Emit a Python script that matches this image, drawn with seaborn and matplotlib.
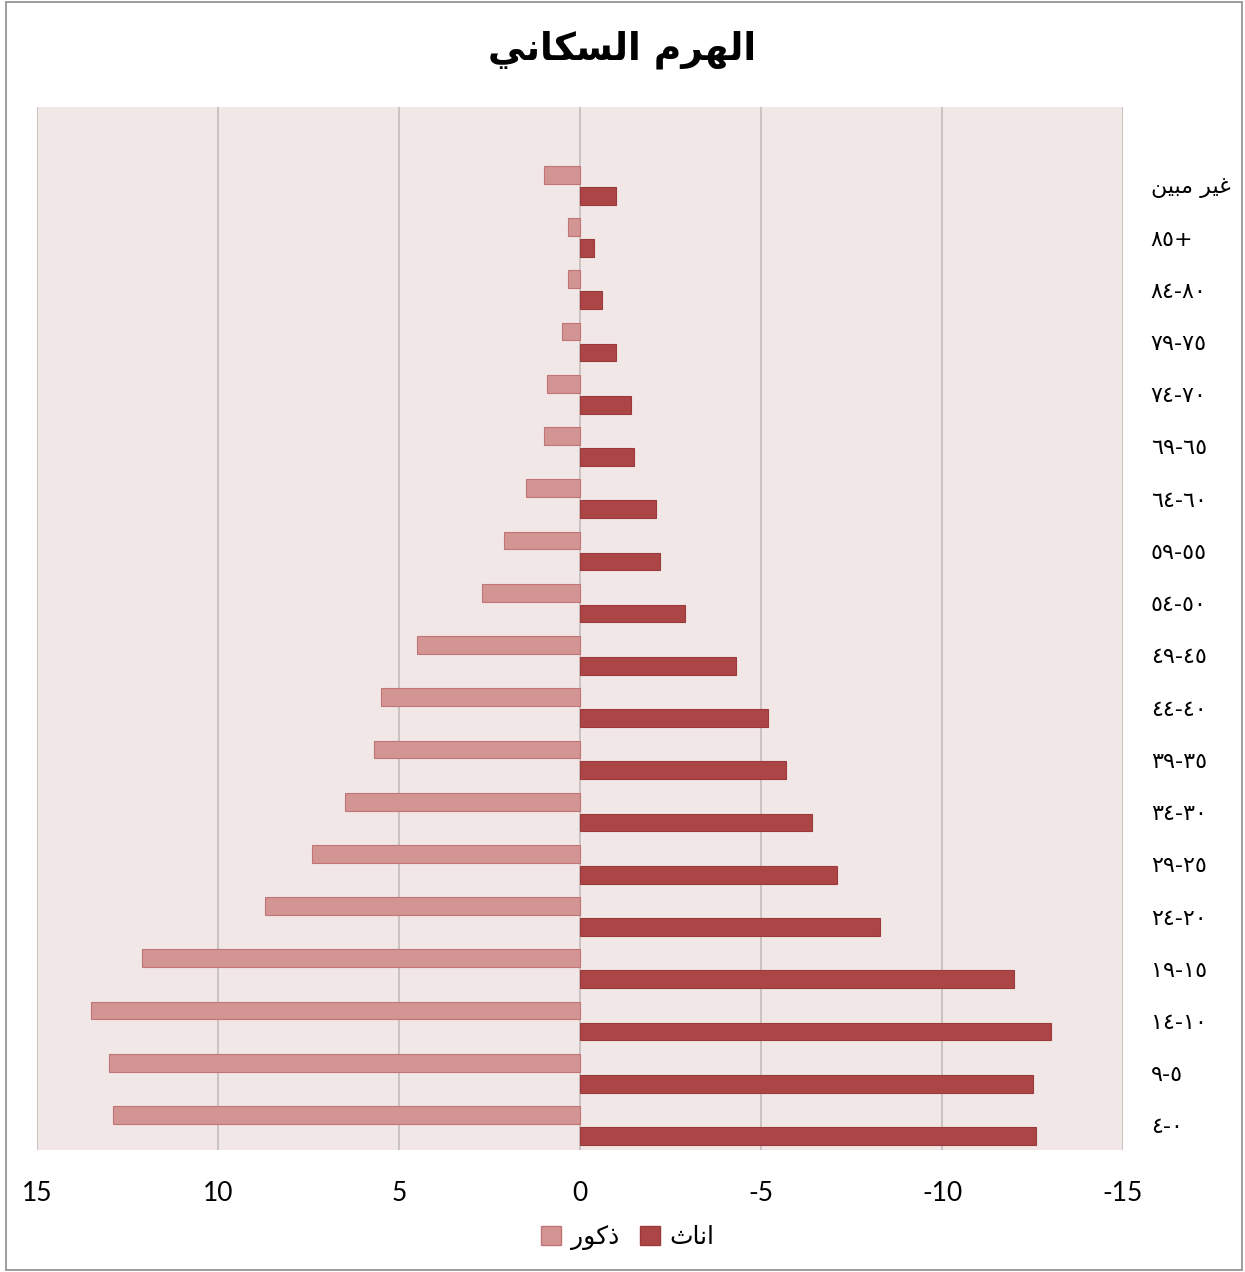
import numpy as np
import pandas as pd
import matplotlib
matplotlib.use("Agg")
import matplotlib.pyplot as plt
import matplotlib.patches as mpatches
import seaborn as sns

# age groups, top to bottom (as printed on the chart)
ages = ["غير مبين", "٨٥+", "٨٤-٨٠", "٧٩-٧٥", "٧٤-٧٠", "٦٩-٦٥", "٦٤-٦٠",
        "٥٩-٥٥", "٥٤-٥٠", "٤٩-٤٥", "٤٤-٤٠", "٣٩-٣٥", "٣٤-٣٠", "٢٩-٢٥",
        "٢٤-٢٠", "١٩-١٥", "١٤-١٠", "٩-٥", "٤-٠"]

# males (positive, drawn on the left because the axis is reversed)
males = [1.0, 0.33, 0.33, 0.5, 0.9, 1.0, 1.5, 2.1, 2.7, 4.5, 5.5, 5.7,
         6.5, 7.4, 8.7, 12.1, 13.5, 13.0, 12.9]
# females (negative)
females = [-1.0, -0.4, -0.6, -1.0, -1.4, -1.5, -2.1, -2.2, -2.9, -4.3, -5.2,
           -5.7, -6.4, -7.1, -8.3, -12.0, -13.0, -12.5, -12.6]

title = "الهرم السكاني"
sex_labels = ["ذكور", "اناث"]
xticks = [15, 10, 5, 0, -5, -10, -15]

# matplotlib has no arabic shaping, so map letters to presentation forms
FORMS = {
    "ا": ("\uFE8D", "\uFE8E", None, None),
    "ب": ("\uFE8F", "\uFE90", "\uFE91", "\uFE92"),
    "ث": ("\uFE99", "\uFE9A", "\uFE9B", "\uFE9C"),
    "ذ": ("\uFEAB", "\uFEAC", None, None),
    "ر": ("\uFEAD", "\uFEAE", None, None),
    "س": ("\uFEB1", "\uFEB2", "\uFEB3", "\uFEB4"),
    "غ": ("\uFECD", "\uFECE", "\uFECF", "\uFED0"),
    "ك": ("\uFED9", "\uFEDA", "\uFEDB", "\uFEDC"),
    "ل": ("\uFEDD", "\uFEDE", "\uFEDF", "\uFEE0"),
    "م": ("\uFEE1", "\uFEE2", "\uFEE3", "\uFEE4"),
    "ن": ("\uFEE5", "\uFEE6", "\uFEE7", "\uFEE8"),
    "ه": ("\uFEE9", "\uFEEA", "\uFEEB", "\uFEEC"),
    "و": ("\uFEED", "\uFEEE", None, None),
    "ي": ("\uFEF1", "\uFEF2", "\uFEF3", "\uFEF4"),
}


def shape(text):
    if not any(c in FORMS for c in text):
        return text
    out = []
    for i, ch in enumerate(text):
        if ch not in FORMS:
            out.append(ch)
            continue
        prev = text[i - 1] if i > 0 else ""
        nxt = text[i + 1] if i + 1 < len(text) else ""
        jp = prev in FORMS and FORMS[prev][2] is not None
        jn = FORMS[ch][2] is not None and nxt in FORMS
        iso, fin, ini, med = FORMS[ch]
        if jp and jn:
            out.append(med)
        elif jp:
            out.append(fin)
        elif jn:
            out.append(ini)
        else:
            out.append(iso)
    return "".join(reversed(out))


df = pd.DataFrame({
    "age": ages * 2,
    "sex": [sex_labels[0]] * len(ages) + [sex_labels[1]] * len(ages),
    "value": males + females,
})

sns.set_style("white")
plt.rcParams["font.family"] = ["DejaVu Sans"]
plt.rcParams["text.color"] = "black"
plt.rcParams["xtick.color"] = "black"
plt.rcParams["ytick.color"] = "black"

male_c = "#D39494"
female_c = "#AC4646"
male_e = "#C07474"
female_e = "#9A3A3A"

fig = plt.figure(figsize=(12.45, 12.72), dpi=100)
ax = fig.add_axes([37 / 1245, 1 - 1150 / 1272, (1123 - 37) / 1245, (1150 - 107) / 1272])
ax.set_facecolor("#F2E7E7")

sns.barplot(data=df, y="age", x="value", hue="sex", orient="h", order=ages,
            hue_order=sex_labels, palette=[male_c, female_c], width=0.8,
            saturation=1, legend=False, ax=ax)

for p in ax.patches:
    fc = p.get_facecolor()
    c = p.get_y() + p.get_height() / 2
    p.set_height(0.34)
    p.set_y(c - 0.17)
    is_male = np.allclose(fc[:3], matplotlib.colors.to_rgb(male_c))
    p.set_edgecolor(male_e if is_male else female_e)
    p.set_linewidth(0.8)
    p.set_zorder(3)

ax.set_xlim(15, -15)
ax.set_ylim(len(ages) - 0.53, -1.5)
ax.set_xticks(xticks)
ax.set_xticklabels([str(v) for v in xticks], fontfamily="Lato", fontsize=19)
ax.xaxis.grid(True, color="#C4BBBB", linewidth=1.2, zorder=0)
ax.set_axisbelow(True)
ax.tick_params(axis="x", length=0, pad=22)

ax.yaxis.tick_right()
ax.set_yticks(range(len(ages)))
ax.set_yticklabels([shape(a) for a in ages], fontsize=16)
ax.tick_params(axis="y", length=0, pad=20)
ax.set_xlabel("")
ax.set_ylabel("")
for s in ax.spines.values():
    s.set_visible(False)

fig.text(0.5, 1 - 50 / 1272, shape(title), ha="center", va="center",
         fontsize=27, fontweight="bold")

handles = [mpatches.Patch(facecolor=male_c, edgecolor=male_e),
           mpatches.Patch(facecolor=female_c, edgecolor=female_e)]
fig.legend(handles, [shape(s) for s in sex_labels], loc="center",
           bbox_to_anchor=(628 / 1245, 1 - 1238 / 1272), ncol=2, frameon=False,
           fontsize=18, handlelength=0.8, handleheight=0.8, handletextpad=0.4,
           columnspacing=0.8)

fig.patches.append(mpatches.Rectangle((6 / 1245, 2 / 1272), 1236 / 1245, 1268 / 1272,
                                      transform=fig.transFigure, fill=False,
                                      edgecolor="#8C8C8C", linewidth=1.2))

fig.savefig("out.png", dpi=100)
